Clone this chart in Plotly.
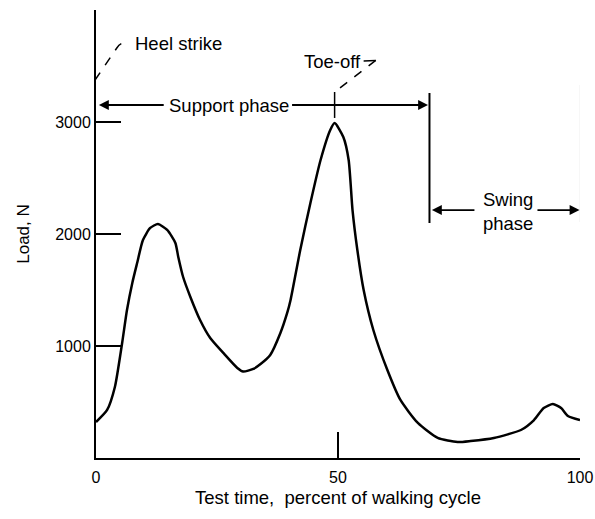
import plotly.graph_objects as go

# Data (percent of walking cycle, load in N)
cycle_pct = [0, 2.3, 3.9, 5.4, 6.4, 7.5, 8.5, 9.7, 11.2, 12.8, 14.7, 16.4, 17.0, 18.0,
             19.5, 21.5, 23.6, 26.3, 29.2, 30.4, 32.5, 34.0, 36.0, 38.1, 39.5, 40.2,
             42.2, 44.3, 46.4, 48.4, 49.3, 51.1, 52.2, 53.0, 54.0, 55.3, 57.3, 60.2,
             62.9, 66.5, 70.6, 74.7, 77.4, 82.2, 87.8, 90.5, 92.5, 94.4, 96.1, 97.5, 100]
load_n = [321, 429, 634, 1027, 1321, 1563, 1741, 1946, 2054, 2089, 2036, 1920, 1795, 1616,
          1438, 1232, 1071, 938, 804, 772, 795, 839, 920, 1116, 1295, 1411,
          1857, 2277, 2661, 2929, 2991, 2866, 2661, 2214, 1857, 1500, 1143, 786,
          518, 313, 179, 143, 152, 179, 250, 339, 446, 482, 446, 375, 339]

x_ticks = [0, 50, 100]
x_tick_labels = ["0", "50", "100"]
y_ticks = [1000, 2000, 3000]
y_tick_labels = ["1000", "2000", "3000"]

FONT = "Liberation Sans, Arial, sans-serif"

fig = go.Figure()
fig.add_trace(go.Scatter(
    x=cycle_pct, y=load_n, mode="lines",
    line=dict(color="black", width=2.5, shape="spline", smoothing=0.6),
    hoverinfo="skip", showlegend=False,
))

shapes = []
# vertical phase boundary markers
shapes.append(dict(type="line", xref="x", yref="y", x0=68.9, x1=68.9, y0=3259, y1=2098,
                   line=dict(color="black", width=2)))
shapes.append(dict(type="line", xref="x", yref="y", x0=100.2, x1=100.2, y0=3330, y1=2107,
                   line=dict(color="black", width=2)))
# heel strike leader (dashed)
shapes.append(dict(type="path", xref="x", yref="y",
                   path="M -0.2,3375 L 4.3,3661 Q 5.2,3720 6.6,3705",
                   line=dict(color="black", width=1.5, dash="dash")))
# toe-off leader
shapes.append(dict(type="line", xref="x", yref="y", x0=55.3, x1=57.8, y0=3545, y1=3550,
                   line=dict(color="black", width=1.5)))
shapes.append(dict(type="line", xref="x", yref="y", x0=57.8, x1=49.3, y0=3550, y1=3268,
                   line=dict(color="black", width=1.5, dash="dash")))
shapes.append(dict(type="line", xref="x", yref="y", x0=49.3, x1=49.3, y0=3268, y1=3036,
                   line=dict(color="black", width=1.5)))

annotations = []
def arrow(x_head, y_head, x_tail, y_tail):
    annotations.append(dict(x=x_head, y=y_head, ax=x_tail, ay=y_tail, xref="x", yref="y",
                            axref="x", ayref="y", text="", showarrow=True, arrowhead=2,
                            arrowsize=1.1, arrowwidth=1.8, arrowcolor="black"))

arrow(0.6, 3152, 14.3, 3152)
arrow(68.6, 3152, 40.2, 3152)
arrow(69.4, 2214, 78.5, 2214)
arrow(99.9, 2214, 90.9, 2214)

def label(x, y, text, xanchor="center"):
    annotations.append(dict(x=x, y=y, xref="x", yref="y", text=text, showarrow=False,
                            xanchor=xanchor, yanchor="middle",
                            font=dict(family=FONT, size=18.5, color="black")))

label(27.4, 3143, "Support phase")
label(7.7, 3705, "Heel strike", xanchor="left")
label(48.8, 3536, "Toe-off")
label(85.1, 2304, "Swing")
label(85.1, 2098, "phase")

fig.update_layout(
    width=595, height=519,
    margin=dict(l=96, r=15, t=10, b=61),
    paper_bgcolor="white", plot_bgcolor="white",
    font=dict(family=FONT, size=16, color="black"),
    shapes=shapes, annotations=annotations,
    xaxis=dict(range=[0, 100], tickvals=x_ticks, ticktext=x_tick_labels,
               ticks="inside", ticklen=26, tickwidth=2, tickcolor="black",
               ticklabelstandoff=4,
               showline=True, linewidth=2, linecolor="black",
               showgrid=False, zeroline=False, automargin=False,
               title=dict(text="Test time,  percent of walking cycle", standoff=6,
                          font=dict(size=18.5))),
    yaxis=dict(range=[0, 4000], tickvals=y_ticks, ticktext=y_tick_labels,
               ticks="inside", ticklen=25, tickwidth=2, tickcolor="black",
               showline=True, linewidth=2, linecolor="black",
               showgrid=False, zeroline=False, automargin=False,
               title=dict(text="Load, N", standoff=21, font=dict(size=17))),
)

fig.write_html("out.html", config={"displayModeBar": False},
               post_script="document.body.style.margin='0';document.body.style.padding='0';")
